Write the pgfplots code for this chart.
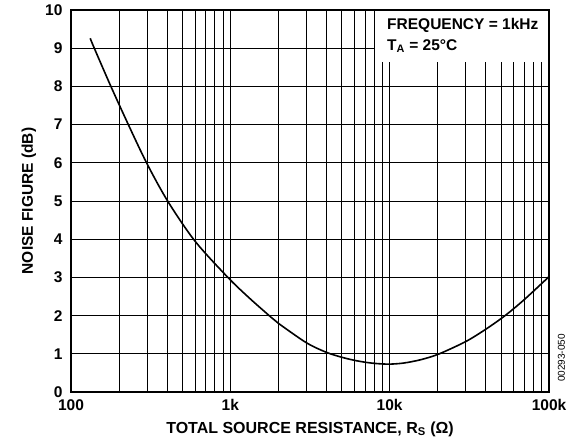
\documentclass[border=0pt]{standalone}
\usepackage{pgfplots}
\pgfplotsset{compat=1.18}
\usepackage{fontspec}
\setmainfont{Liberation Sans}
\begin{document}
\begin{tikzpicture}
\begin{semilogxaxis}[
  scale only axis, width=478pt, height=382pt,
  xmin=100, xmax=100000, ymin=0, ymax=10,
  xtick={100,1000,10000,100000}, xticklabels={100,1k,10k,100k},
  minor xtick={200,300,400,500,600,700,800,900,2000,3000,4000,5000,6000,7000,8000,9000,20000,30000,40000,50000,60000,70000,80000,90000},
  ytick={0,1,2,3,4,5,6,7,8,9,10},
  grid=both,
  major grid style={black, line width=0.8pt},
  minor grid style={black, line width=0.8pt},
  axis line style={line width=1.6pt},
  major tick length=0pt, minor tick length=0pt,
  ticklabel style={font=\fontsize{15.5}{17}\selectfont\bfseries},
  /pgf/number format/assume math mode=true,
  xticklabel style={yshift=-4pt},
  yticklabel style={xshift=-5pt},
  label style={font=\fontsize{15.5}{17}\selectfont\bfseries},
  xlabel={TOTAL SOURCE RESISTANCE, R\textsubscript{S} (Ω)},
  ylabel={NOISE FIGURE (dB)},
  xlabel style={font=\fontsize{16}{18}\selectfont\bfseries, at={(axis description cs:0.5,-0.0969)}, anchor=center},
  ylabel style={at={(axis description cs:-0.0879,0.5)}, anchor=center},
]
\addplot[black, line width=1.6pt, smooth] coordinates {
  (132,9.26) (140,9.0) (178,8.0) (229,7.0) (298,6.0) (404,5.0) (600,3.95)
  (965,3.0) (1300,2.48) (1775,1.98) (2000,1.8) (3000,1.29) (4000,1.04)
  (5000,0.91) (6000,0.83) (7000,0.78) (8000,0.75) (9000,0.735) (10000,0.73)
  (11500,0.745) (13000,0.775) (16000,0.855) (20500,1.0)
  (30000,1.32) (40000,1.64) (53000,2.0) (70000,2.42) (100000,3.02)
};
\end{semilogxaxis}
\fill[white] (304pt,330pt) rectangle (477.2pt,381.2pt);
\node[anchor=west, inner sep=0pt, font=\fontsize{15.5}{17}\selectfont\bfseries] at (316pt,367pt) {FREQUENCY = 1kHz};
\node[anchor=west, inner sep=0pt, font=\fontsize{15.5}{17}\selectfont\bfseries] at (316pt,346pt) {T\textsubscript{A} = 25°C};
\node[rotate=90, inner sep=0pt, font=\fontsize{10}{12}\selectfont] at (490.5pt,34pt) {00293-050};
\pgfresetboundingbox
\path (-71pt,-50pt) rectangle (498pt,392pt);
\end{tikzpicture}
\end{document}
